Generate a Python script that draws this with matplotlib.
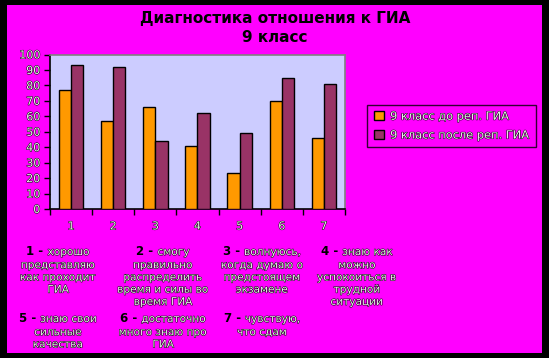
import matplotlib
matplotlib.use("Agg")
import matplotlib.pyplot as plt
import matplotlib.patheffects as pe
from matplotlib.patches import Rectangle
from matplotlib.offsetbox import TextArea, HPacker, VPacker, AnnotationBbox
import numpy as np

categories = ["1", "2", "3", "4", "5", "6", "7"]
before = [77, 57, 66, 41, 23, 70, 46]
after = [93, 92, 44, 62, 49, 85, 81]
series_names = ["9 класс до реп. ГИА", "9 класс после реп. ГИА"]
notes = [
    ("1", ["хорошо", "представляю", "как проходит", "ГИА"]),
    ("2", ["смогу", "правильно", "распределить", "время и силы во", "время ГИА"]),
    ("3", ["волнуюсь,", "когда думаю о", "предстоящем", "экзамене"]),
    ("4", ["знаю как", "можно", "успокоиться в", "трудной", "ситуации"]),
    ("5", ["знаю свои", "сильные", "качества"]),
    ("6", ["достаточно", "много знаю про", "ГИА"]),
    ("7", ["чувствую,", "что сдам"]),
]

W, H = 549, 358
fig = plt.figure(figsize=(W / 100, H / 100), dpi=100, facecolor="black")
fig.patches.append(Rectangle((7 / W, (H - 353) / H), (542 - 7) / W, (353 - 5) / H,
                             transform=fig.transFigure, facecolor="#FF00FF",
                             edgecolor="none", zorder=-10))

outline = [pe.withStroke(linewidth=0.7, foreground="black")]
light = dict(color="#EDEDED", path_effects=outline, fontsize=7.6)

ax = fig.add_axes([50 / W, (H - 209) / H, 295 / W, (209 - 54.5) / H])
ax.set_facecolor("#CCCCFF")
x = np.arange(len(categories))
bw = 0.29
ax.bar(x - bw / 2, before, bw, color="#FF9900", edgecolor="black", linewidth=1.0,
       label=series_names[0], zorder=3)
ax.bar(x + bw / 2, after, bw, color="#993366", edgecolor="black", linewidth=1.0,
       label=series_names[1], zorder=3)
ax.set_xlim(-0.5, len(categories) - 0.5)
ax.set_ylim(0, 100)
ax.set_yticks(range(0, 101, 10))
ax.set_xticks(x)
ax.set_xticklabels(categories)
ax.set_xticks(np.arange(-0.5, len(categories)), minor=True)
ax.tick_params(axis="x", which="major", length=0, pad=9)
ax.tick_params(axis="x", which="minor", length=4, width=1, direction="out", color="black")
ax.tick_params(axis="y", length=4, width=1, direction="out", color="black", pad=3)
for lab in ax.get_xticklabels() + ax.get_yticklabels():
    lab.set_color("#EDEDED")
    lab.set_path_effects(outline)
    lab.set_fontsize(8)
for s in ["left", "bottom"]:
    ax.spines[s].set_color("black")
    ax.spines[s].set_linewidth(1.2)
for s in ["top", "right"]:
    ax.spines[s].set_color("#808080")
    ax.spines[s].set_linewidth(1.2)

leg = fig.legend(loc="center", bbox_to_anchor=(451.5 / W, (H - 126) / H), frameon=True,
                 fancybox=False, edgecolor="black", facecolor="#FF00FF", fontsize=8.2,
                 handlelength=0.9, handleheight=0.8, handletextpad=0.5, labelspacing=0.75,
                 borderpad=0.6)
leg.get_frame().set_linewidth(1.0)
for t in leg.get_texts():
    t.set_color("#EDEDED")
    t.set_path_effects(outline)

fig.text(275 / W, (H - 18) / H, "Диагностика отношения к ГИА", ha="center", va="center",
         fontsize=11, fontweight="bold", color="black")
fig.text(275 / W, (H - 37) / H, "9 класс", ha="center", va="center",
         fontsize=11, fontweight="bold", color="black")

centers = [(58, 251), (163, 251), (262, 251), (357, 251), (58, 318), (163, 318), (262, 318)]
for (num, lines), (cx, cy) in zip(notes, centers):
    first = HPacker(children=[
        TextArea(num + " -", textprops=dict(color="black", fontweight="bold", fontsize=8.5)),
        TextArea(lines[0], textprops=light)], align="baseline", pad=0, sep=3)
    rows = [first] + [TextArea(l, textprops=light) for l in lines[1:]]
    box = VPacker(children=rows, align="center", pad=0, sep=1.6)
    ab = AnnotationBbox(box, (cx, H - cy + 6), xycoords="figure pixels",
                        box_alignment=(0.5, 1.0), frameon=False, pad=0)
    fig.add_artist(ab)

fig.savefig("out.png", dpi=100, facecolor="black")
